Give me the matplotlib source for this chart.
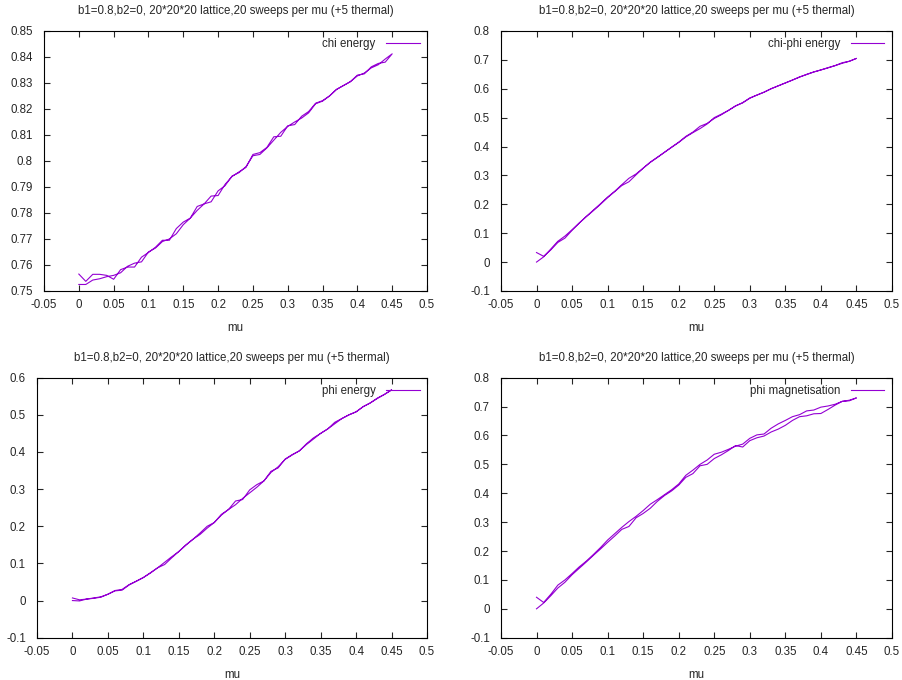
import matplotlib.pyplot as plt
from matplotlib.ticker import FuncFormatter, MultipleLocator

plt.rcParams["font.family"] = ["Liberation Sans", "DejaVu Sans"]
plt.rcParams["font.size"] = 8.3

TITLE = "b1=0.8,b2=0, 20*20*20 lattice,20 sweeps per mu (+5 thermal)"
LINE_COLOR = "#9400d3"
TEXT_COLOR = "#262626"

mu = [0.00, 0.01, 0.02, 0.03, 0.04, 0.05, 0.06, 0.07, 0.08, 0.09,
      0.10, 0.11, 0.12, 0.13, 0.14, 0.15, 0.16, 0.17, 0.18, 0.19,
      0.20, 0.21, 0.22, 0.23, 0.24, 0.25, 0.26, 0.27, 0.28, 0.29,
      0.30, 0.31, 0.32, 0.33, 0.34, 0.35, 0.36, 0.37, 0.38, 0.39,
      0.40, 0.41, 0.42, 0.43, 0.44, 0.45]

# each observable: sweep up in mu, then the sweep back down (stored in ascending mu)
chi_up = [0.7525, 0.7525, 0.7542, 0.7547, 0.7555, 0.7560, 0.7570, 0.7595, 0.7607, 0.7612,
          0.7650, 0.7665, 0.7690, 0.7700, 0.7720, 0.7755, 0.7780, 0.7810, 0.7835, 0.7843,
          0.7885, 0.7905, 0.7942, 0.7955, 0.7978, 0.8020, 0.8025, 0.8050, 0.8080, 0.8110,
          0.8133, 0.8150, 0.8165, 0.8185, 0.8220, 0.8230, 0.8250, 0.8275, 0.8290, 0.8305,
          0.8327, 0.8338, 0.8358, 0.8370, 0.8392, 0.8412]
chi_down = [0.7565, 0.7537, 0.7564, 0.7564, 0.7560, 0.7545, 0.7582, 0.7592, 0.7592, 0.7630,
            0.7648, 0.7668, 0.7695, 0.7695, 0.7740, 0.7765, 0.7780, 0.7825, 0.7835, 0.7865,
            0.7867, 0.7910, 0.7940, 0.7958, 0.7975, 0.8025, 0.8032, 0.8052, 0.8093, 0.8095,
            0.8135, 0.8140, 0.8172, 0.8190, 0.8222, 0.8232, 0.8250, 0.8275, 0.8290, 0.8305,
            0.8330, 0.8335, 0.8362, 0.8375, 0.8380, 0.8412]

chiphi_up = [0.000, 0.018, 0.045, 0.072, 0.090, 0.112, 0.135, 0.158, 0.180, 0.202,
             0.225, 0.245, 0.268, 0.290, 0.305, 0.325, 0.346, 0.363, 0.380, 0.398,
             0.415, 0.435, 0.450, 0.470, 0.480, 0.497, 0.510, 0.525, 0.540, 0.552,
             0.568, 0.578, 0.588, 0.600, 0.610, 0.620, 0.630, 0.640, 0.650, 0.658,
             0.665, 0.673, 0.680, 0.690, 0.695, 0.705]
chiphi_down = [0.033, 0.020, 0.042, 0.068, 0.083, 0.110, 0.135, 0.157, 0.178, 0.200,
               0.223, 0.244, 0.265, 0.278, 0.302, 0.325, 0.345, 0.362, 0.380, 0.397,
               0.414, 0.433, 0.448, 0.462, 0.478, 0.500, 0.512, 0.525, 0.541, 0.551,
               0.567, 0.578, 0.588, 0.600, 0.610, 0.620, 0.630, 0.641, 0.649, 0.658,
               0.665, 0.672, 0.680, 0.688, 0.695, 0.705]

phi_up = [0.000, -0.001, 0.004, 0.006, 0.009, 0.017, 0.026, 0.028, 0.042, 0.052,
          0.062, 0.074, 0.088, 0.103, 0.118, 0.132, 0.149, 0.165, 0.178, 0.195,
          0.210, 0.230, 0.245, 0.258, 0.275, 0.290, 0.305, 0.322, 0.345, 0.360,
          0.380, 0.392, 0.403, 0.420, 0.435, 0.450, 0.462, 0.476, 0.490, 0.500,
          0.508, 0.522, 0.532, 0.544, 0.555, 0.567]
phi_down = [0.007, 0.002, 0.004, 0.007, 0.010, 0.017, 0.027, 0.030, 0.043, 0.052,
            0.062, 0.075, 0.088, 0.097, 0.115, 0.132, 0.150, 0.165, 0.182, 0.200,
            0.210, 0.232, 0.245, 0.268, 0.272, 0.298, 0.312, 0.322, 0.348, 0.357,
            0.381, 0.393, 0.403, 0.422, 0.438, 0.450, 0.462, 0.480, 0.490, 0.500,
            0.508, 0.522, 0.532, 0.545, 0.555, 0.567]

mag_up = [0.000, 0.020, 0.045, 0.072, 0.092, 0.118, 0.140, 0.162, 0.185, 0.207,
          0.230, 0.252, 0.275, 0.285, 0.315, 0.330, 0.348, 0.372, 0.392, 0.408,
          0.428, 0.455, 0.468, 0.495, 0.500, 0.520, 0.533, 0.548, 0.565, 0.560,
          0.582, 0.592, 0.598, 0.612, 0.622, 0.635, 0.652, 0.665, 0.668, 0.675,
          0.676, 0.690, 0.705, 0.718, 0.722, 0.730]
mag_down = [0.040, 0.022, 0.050, 0.082, 0.100, 0.122, 0.145, 0.165, 0.188, 0.212,
            0.238, 0.260, 0.282, 0.302, 0.320, 0.340, 0.362, 0.378, 0.395, 0.412,
            0.432, 0.462, 0.480, 0.500, 0.515, 0.535, 0.542, 0.552, 0.563, 0.570,
            0.590, 0.602, 0.605, 0.625, 0.640, 0.652, 0.665, 0.672, 0.685, 0.688,
            0.698, 0.702, 0.708, 0.718, 0.720, 0.730]

panels = [
    ("chi energy", chi_up, chi_down, (0.75, 0.85), 0.01,
     [0.0488, 0.5721, 0.4246, 0.3824]),
    ("chi-phi energy", chiphi_up, chiphi_down, (-0.1, 0.8), 0.1,
     [0.5554, 0.5721, 0.4335, 0.3824]),
    ("phi energy", phi_up, phi_down, (-0.1, 0.6), 0.1,
     [0.0410, 0.0622, 0.4324, 0.3824]),
    ("phi magnetisation", mag_up, mag_down, (-0.1, 0.8), 0.1,
     [0.5554, 0.0622, 0.4335, 0.3824]),
]

fmt = FuncFormatter(lambda v, _: f"{v:g}")

fig = plt.figure(figsize=(9.02, 6.8), dpi=100)
for label, up, down, ylim, ystep, rect in panels:
    ax = fig.add_axes(rect)
    x = mu + mu[::-1]
    y = up + down[::-1]
    ax.plot(x, y, color=LINE_COLOR, lw=0.8, label=label)

    ax.set_xlim(-0.05, 0.5)
    ax.set_ylim(*ylim)
    ax.xaxis.set_major_locator(MultipleLocator(0.05))
    ax.yaxis.set_major_locator(MultipleLocator(ystep))
    ax.xaxis.set_major_formatter(fmt)
    ax.yaxis.set_major_formatter(fmt)
    ax.tick_params(direction="in", top=True, right=True, length=4,
                   width=0.8, colors=TEXT_COLOR, labelsize=8.3)
    ax.tick_params(axis="x", pad=6)
    ax.tick_params(axis="y", pad=8)
    for spine in ax.spines.values():
        spine.set_linewidth(0.8)

    ax.set_title(TITLE, fontsize=8.3, pad=12, color=TEXT_COLOR)
    ax.set_xlabel("mu", fontsize=8.3, labelpad=8, color=TEXT_COLOR)
    leg = ax.legend(loc="upper right", frameon=False, markerfirst=False,
                    handlelength=2.9, handletextpad=0.9, fontsize=8.3,
                    borderaxespad=0.25)
    for t in leg.get_texts():
        t.set_color(TEXT_COLOR)

fig.savefig("out.png", dpi=100)
